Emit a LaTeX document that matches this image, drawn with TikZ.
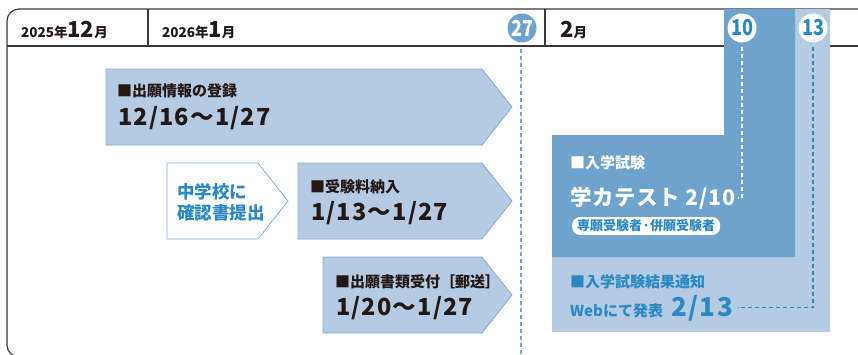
\documentclass[tikz,border=0pt]{standalone}
\usepackage{fontspec}
\usepackage{graphicx}
\setmainfont{Noto Sans CJK JP}
\usetikzlibrary{positioning}

\definecolor{boxlight}{HTML}{B4CBE3}
\definecolor{boxdark}{HTML}{6DA3CC}
\definecolor{arrowline}{HTML}{7EACD6}
\definecolor{textblue}{HTML}{2A88C2}
\definecolor{inkblack}{HTML}{231815}
\definecolor{frameline}{HTML}{3A3A3A}

\newcommand{\fs}[1]{\fontsize{#1}{#1}\selectfont}
\newcommand{\narrow}[1]{\scalebox{0.82}[1]{#1}}

\begin{document}
\begin{tikzpicture}[x=1pt,y=-1pt,
    every node/.style={inner sep=0pt,font=\bfseries},
    frame/.style={draw=frameline,line width=1.2pt},
    steparrow/.style={fill=boxlight,draw=arrowline,line width=0.8pt},
    steptitle/.style={anchor=west,text=inkblack,font=\bfseries\fs{15}},
    stepdate/.style={anchor=west,text=inkblack,font=\bfseries\fs{23.5}\addfontfeature{LetterSpace=5}},
    daynum/.style={circle,minimum size=29pt,font=\bfseries\fs{22}},
    daydash/.style={dash pattern=on 4pt off 3pt,line width=1.2pt},
  ]
    \useasboundingbox (0,0) rectangle (858,354);
    \clip (0,0) rectangle (858,354);

    % frame and header
    \draw[frame,rounded corners=12pt] (860,9) -- (7,9) -- (7,357) -- (860,357);
    \draw[frame] (7,46) -- (860,46);
    \draw[frame] (148,9) -- (148,46);
    \draw[frame] (545,9) -- (545,46);
    \node[anchor=base west,text=inkblack] (dec) at (21,37.5) {\fs{13.5}2025年\fs{22}12\fs{13.5}月};
    \node[anchor=base west,text=inkblack] (jan) at (162,37.5) {\fs{13.5}2026年\fs{22}1\fs{13.5}月};
    \node[anchor=base west,text=inkblack] (feb) at (560,37.5) {\fs{22}2\fs{13.5}月};

    % exam and result blocks
    \fill[boxlight] (795,9) -- (830,9) -- (830,332) -- (552,332) -- (552,257) -- (795,257) -- cycle;
    \fill[boxdark] (724,9) -- (795,9) -- (795,257) -- (552,257) -- (552,135) -- (724,135) -- cycle;

    % steps
    \draw[steparrow] (106,69) -- (482,69) -- (512,107) -- (482,145) -- (106,145) -- cycle;
    \draw[steparrow,fill=white] (167,163) -- (258,163) -- (288,201) -- (258,239) -- (167,239) -- cycle;
    \draw[steparrow] (298,163) -- (482,163) -- (512,201) -- (482,239) -- (298,239) -- cycle;
    \draw[steparrow] (323,257) -- (482,257) -- (512,295) -- (482,333) -- (323,333) -- cycle;

    \node[steptitle] (entrytitle) at (117,91) {■出願情報の登録};
    \node[stepdate] (entrydate) at (118,118) {12/16～1/27};
    \node[anchor=west,align=left,text=textblue,font=\bfseries\fontsize{17.5}{21}\selectfont] (confirm) at (177,202) {中学校に\\確認書提出};
    \node[steptitle] (feetitle) at (310,187) {■受験料納入};
    \node[stepdate] (feedate) at (311,213) {1/13～1/27};
    \node[steptitle] (mailtitle) at (335,282) {■出願書類受付［郵送］};
    \node[stepdate] (maildate) at (336,308) {1/20～1/27};

    \node[anchor=west,text=white,font=\bfseries\fs{15}] (testtitle) at (570,163) {■入学試験};
    \node[anchor=west,text=white,font=\bfseries\fs{21.5}\addfontfeature{LetterSpace=3}] (testdate) at (570,198) {学カテスト 2/10};
    \node[anchor=west,fill=white,text=textblue,rounded corners=8pt,inner xsep=5pt,minimum height=18pt,font=\bfseries\fs{13}] (badge) at (572,226) {専願受験者·併願受験者};
    \node[anchor=west,text=textblue,font=\bfseries\fs{15}] (resulttitle) at (570,282) {■入学試験結果通知};
    \node[anchor=base west,text=textblue,font=\bfseries\fs{15}] (resultweb) at (570,316) {Webにて発表};
    \node[anchor=base west,text=textblue,font=\bfseries\fs{26}\addfontfeature{LetterSpace=5}] (resultdate) at ([xshift=8pt]resultweb.base east) {2/13};

    % day markers
    \node[daynum,fill=boxdark,text=white] (c27) at (522,28) {\narrow{27}};
    \node[daynum,fill=white,text=textblue] (c10) at (742,28) {\narrow{10}};
    \node[daynum,fill=white,text=textblue] (c13) at (813,28) {\narrow{13}};
    \coordinate (end27) at (521,356);

    \draw[daydash,draw=boxdark,shorten <=6pt] (c27.south -| end27) -- (end27);
    \draw[daydash,draw=white,shorten <=4pt] (c10.south) |- ([xshift=2pt]testdate.east);
    \draw[daydash,draw=textblue,shorten <=4pt] (c13.south) |- ([xshift=5pt]resultdate.east);
\end{tikzpicture}
\end{document}
